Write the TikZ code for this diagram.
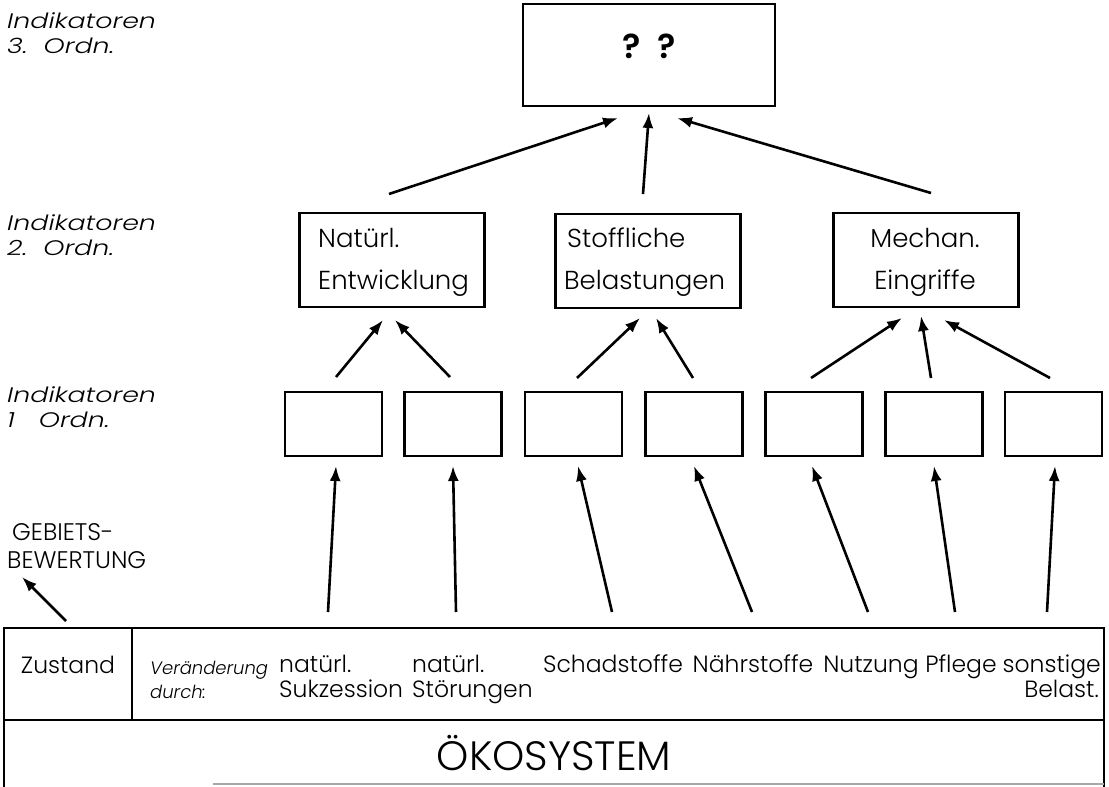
\documentclass[tikz,border=0pt]{standalone}
\usepackage{fontspec}
\setmainfont{Poppins}[UprightFont={* Light},ItalicFont={* Light Italic},BoldFont={* SemiBold}]
\usetikzlibrary{arrows.meta}
\newcommand{\sxt}[1]{\scalebox{1.28}[1]{#1}}
\begin{document}
\begin{tikzpicture}[x=1pt,y=-1pt,
  bigbox/.style={draw, line width=2.2pt, minimum width=185pt, minimum height=94pt, inner sep=0pt},
  smallbox/.style={draw, line width=2.2pt, minimum width=97pt, minimum height=64pt, inner sep=0pt},
  arr/.style={line width=2.6pt, -{Latex[length=15pt,width=11pt]}},
  lbl/.style={font=\fontsize{21}{26}\selectfont\itshape, anchor=base west, inner sep=0pt},
  btxt/.style={font=\fontsize{26}{30}\selectfont, anchor=base west, inner sep=0pt},
  ttxt/.style={font=\fontsize{23.5}{28}\selectfont, anchor=base, inner sep=0pt},
  itxt/.style={font=\fontsize{18}{22}\selectfont\itshape, anchor=base west, inner sep=0pt},
  caps/.style={font=\fontsize{24}{28}\selectfont, anchor=base west, inner sep=0pt}
]
\useasboundingbox (0,0) rectangle (1109,787);

% left labels
\node[lbl] (l3a) at (7,28) {\sxt{Indikatoren}};
\node[lbl] (l3b) at (7,53) {\sxt{3.\ \ Ordn.}};
\node[lbl] (l2a) at (7,230) {\sxt{Indikatoren}};
\node[lbl] (l2b) at (7,255) {\sxt{2.\ \ Ordn.}};
\node[lbl] (l1a) at (7,402) {\sxt{Indikatoren}};
\node[lbl] (l1b) at (7,427) {\sxt{1\ \ \ Ordn.}};
\node[caps] (g1) at (12,540) {GEBIETS-};
\node[caps] (g2) at (7,568) {BEWERTUNG};

% top box
\node[draw, line width=2.2pt, minimum width=252pt, minimum height=102pt, inner sep=0pt] (top) at (649,55) {};
\node[font=\fontsize{34}{34}\selectfont\bfseries, inner sep=0pt] (qq) at (649,46) {?\ \ ?};

% level 2 boxes
\node[bigbox] (n) at (392,260) {};
\node[bigbox] (s) at (648,261) {};
\node[bigbox] (m) at (926,260) {};
\node[btxt] (n1) at (318,247) {Natürl.};
\node[btxt] (n2) at (318,289) {Entwicklung};
\node[btxt] (s1) at (567,247) {Stoffliche};
\node[btxt] (s2) at (564,289) {Belastungen};
\node[btxt, anchor=base] (m1) at (925,247) {Mechan.};
\node[btxt, anchor=base] (m2) at (925,289) {Eingriffe};

% level 1 boxes
\node[smallbox] (b1) at (333.5,424) {};
\node[smallbox] (b2) at (453,424) {};
\node[smallbox] (b3) at (573.5,424) {};
\node[smallbox] (b4) at (694,424) {};
\node[smallbox] (b5) at (814,424) {};
\node[smallbox] (b6) at (934,424) {};
\node[smallbox] (b7) at (1053.5,424) {};

% arrows level 2 -> top
\coordinate (t1s) at (389,194); \coordinate (t1e) at (618,118);
\coordinate (t2s) at (643,194); \coordinate (t2e) at (649,113);
\coordinate (t3s) at (931,193); \coordinate (t3e) at (677,118);
\draw[arr] (t1s) -- (t1e);
\draw[arr] (t2s) -- (t2e);
\draw[arr] (t3s) -- (t3e);

% arrows level 1 -> level 2
\coordinate (a1s) at (336,377); \coordinate (a1e) at (383,320);
\coordinate (a2s) at (450,377); \coordinate (a2e) at (395,320);
\coordinate (a3s) at (577,378); \coordinate (a3e) at (640,318);
\coordinate (a4s) at (693,378); \coordinate (a4e) at (656,318);
\coordinate (a5s) at (811,378); \coordinate (a5e) at (902,318);
\coordinate (a6s) at (931,378); \coordinate (a6e) at (921,316);
\coordinate (a7s) at (1050,378); \coordinate (a7e) at (944,320);
\foreach \i in {1,...,7} {\draw[arr] (a\i s) -- (a\i e);}

% arrows from table -> level 1
\coordinate (c1s) at (328,612); \coordinate (c1e) at (336,466);
\coordinate (c2s) at (456,612); \coordinate (c2e) at (453,466);
\coordinate (c3s) at (612,612); \coordinate (c3e) at (578,466);
\coordinate (c4s) at (752,612); \coordinate (c4e) at (694,466);
\coordinate (c5s) at (868,612); \coordinate (c5e) at (812,466);
\coordinate (c6s) at (955,612); \coordinate (c6e) at (934,466);
\coordinate (c7s) at (1047,612); \coordinate (c7e) at (1055,466);
\foreach \i in {1,...,7} {\draw[arr] (c\i s) -- (c\i e);}

% Gebietsbewertung arrow
\coordinate (gs) at (66,621); \coordinate (ge) at (22,577);
\draw[arr] (gs) -- (ge);

% table
\draw[line width=2.2pt] (4,787) -- (4,628) -- (1104,628) -- (1104,787);
\draw[line width=2.2pt] (4,720) -- (1104,720);
\draw[line width=2.2pt] (132,628) -- (132,720);
\draw[line width=1.5pt, gray!70] (213,784) -- (1104,784);

\node[ttxt] (zu) at (68,673) {Zustand};
\node[itxt] (ve) at (150,674) {Veränderung};
\node[itxt] (du) at (150,698) {durch:};
\node[ttxt, anchor=base west] (x1a) at (279,672) {natürl.};
\node[ttxt, anchor=base west] (x1b) at (279,697) {Sukzession};
\node[ttxt, anchor=base west] (x2a) at (412,672) {natürl.};
\node[ttxt, anchor=base west] (x2b) at (412,697) {Störungen};
\node[ttxt] (x3) at (613,672) {Schadstoffe};
\node[ttxt] (x4) at (753,672) {Nährstoffe};
\node[ttxt] (x5) at (871,672) {Nutzung};
\node[ttxt] (x6) at (961,672) {Pflege};
\node[ttxt, anchor=base east] (x7a) at (1101,672) {sonstige};
\node[ttxt, anchor=base east] (x7b) at (1099,697) {Belast.};

\node[font=\fontsize{41}{41}\selectfont, inner sep=0pt] (oek) at (554,753) {ÖKOSYSTEM};
\end{tikzpicture}
\end{document}
